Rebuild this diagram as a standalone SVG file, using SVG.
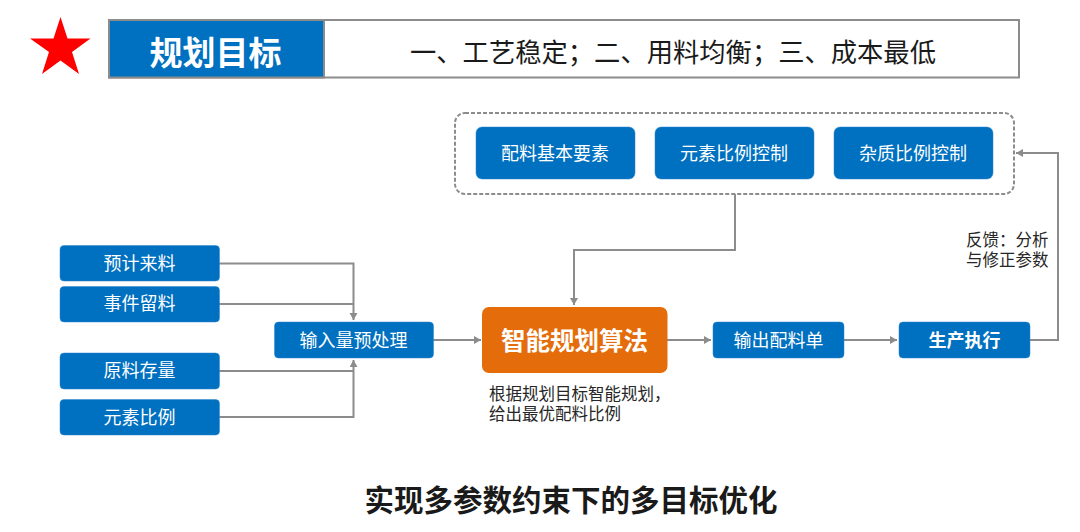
<svg xmlns="http://www.w3.org/2000/svg" width="1080" height="532" viewBox="0 0 1080 532">
<style>
text{font-family:"Liberation Sans","Noto Sans CJK SC",sans-serif;text-anchor:middle}
.b{fill:#0070c0;stroke:#2e86cf;stroke-width:.5}
.w{fill:#fff;font-size:18px}
.c{fill:none;stroke:#8c8c8c;stroke-width:2}
.k{fill:#262626;text-anchor:start;font-size:16.500px}
</style>
<defs><marker id="a" markerUnits="userSpaceOnUse" markerWidth="10" markerHeight="10" refX="7" refY="4" orient="auto"><path d="M0 0L7 4L0 8Z" fill="#8c8c8c"/></marker></defs>
<rect width="1080" height="532" fill="#fff"/>
<g id="banner">
<polygon points="60.500,17 67.500,38.500 90.500,38.500 72,52 79,74 60.500,60.500 42,74 49,52 30,38.500 53.500,38.500" fill="#f00"/>
<rect x="109" y="20" width="910" height="57.500" fill="#fff" stroke="#8c8c8c" stroke-width="2"/>
<rect x="109" y="20" width="215" height="57.500" fill="#0070c0" stroke="#8c8c8c" stroke-width="2"/>
<text x="215.500" y="65" fill="#fff" font-size="33" font-weight="700">规划目标</text>
<text x="673" y="62" fill="#1a1a1a" font-size="26.300">一、工艺稳定；二、用料均衡；三、成本最低</text>
</g>
<g id="connectors">
<path class="c" d="M219 263.500H353.500V320" marker-end="url(#a)"/>
<path class="c" d="M219 304H353.500"/>
<path class="c" d="M219 371H353.500"/>
<path class="c" d="M219 417H353.500V360" marker-end="url(#a)"/>
<path class="c" d="M433 340H481" marker-end="url(#a)"/>
<path class="c" d="M667 340H711" marker-end="url(#a)"/>
<path class="c" d="M844 340H897" marker-end="url(#a)"/>
<path class="c" d="M735 194V250H574V305" marker-end="url(#a)"/>
<path class="c" d="M1030 340H1058V153H1016" marker-end="url(#a)"/>
</g>
<g id="constraints"><rect x="455" y="113" width="559" height="81" rx="10" fill="none" stroke="#8c8c8c" stroke-width="2" stroke-dasharray="4 2"/></g>
<g id="n1"><rect class="b" x="476" y="127" width="159" height="52" rx="6"/><text class="w" x="555" y="159.500">配料基本要素</text></g>
<g id="n2"><rect class="b" x="655" y="127" width="159" height="52" rx="6"/><text class="w" x="734" y="159.500">元素比例控制</text></g>
<g id="n3"><rect class="b" x="834" y="127" width="159" height="52" rx="6"/><text class="w" x="913" y="159.500">杂质比例控制</text></g>
<g id="n4"><rect class="b" x="60" y="245.500" width="159.500" height="35.500" rx="4"/><text class="w" x="139.500" y="269.500">预计来料</text></g>
<g id="n5"><rect class="b" x="60" y="286.500" width="159.500" height="35.500" rx="4"/><text class="w" x="139.500" y="310">事件留料</text></g>
<g id="n6"><rect class="b" x="60" y="353" width="159.500" height="36" rx="4"/><text class="w" x="139.500" y="377">原料存量</text></g>
<g id="n7"><rect class="b" x="60" y="399.500" width="159.500" height="35.500" rx="4"/><text class="w" x="139.500" y="423.500">元素比例</text></g>
<g id="n8"><rect class="b" x="274.500" y="322" width="159" height="36" rx="4"/><text class="w" x="353.500" y="346.500">输入量预处理</text></g>
<g id="n9"><rect x="482" y="307" width="185.500" height="66" rx="7" fill="#e46c0a"/><text x="574.500" y="349.500" fill="#fff" font-size="24.500" font-weight="700">智能规划算法</text></g>
<g id="n10"><rect class="b" x="713" y="322" width="131" height="36" rx="4"/><text class="w" x="778.500" y="346.500">输出配料单</text></g>
<g id="n11"><rect class="b" x="899" y="322" width="131" height="36" rx="4"/><text class="w" x="964.500" y="346.500" font-weight="700">生产执行</text></g>
<g id="labels">
<text class="k" x="489" y="399.500">根据规划目标智能规划，</text>
<text class="k" x="489" y="420">给出最优配料比例</text>
<text class="k" x="966" y="245.500">反馈：分析</text>
<text class="k" x="966" y="265.500">与修正参数</text>
<text x="571" y="511" fill="#1a1a1a" font-size="29.500" font-weight="700">实现多参数约束下的多目标优化</text>
</g>
</svg>
